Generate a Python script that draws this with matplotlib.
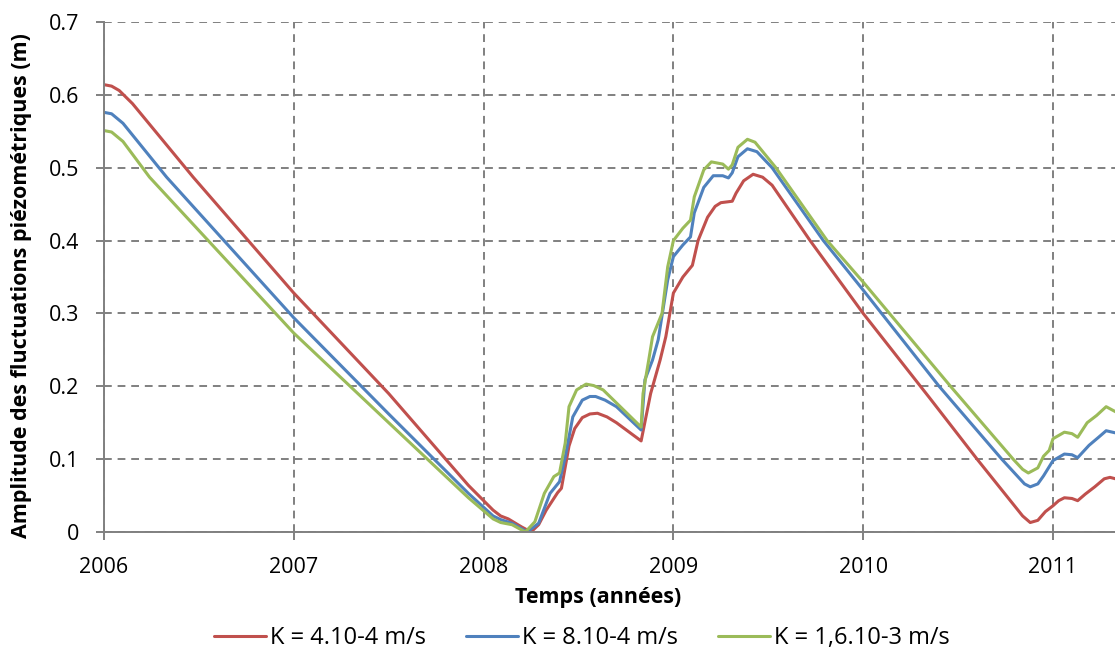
import numpy as np
import matplotlib
matplotlib.use('Agg')
import matplotlib.pyplot as plt
from matplotlib import rcParams

rcParams.update({'font.family': ['Open Sans', 'DejaVu Sans'], 'font.size': 15.5})

# time (years) and amplitude (m), one pair per curve
t_red = [2006.00, 2006.04, 2006.08, 2006.15, 2006.47, 2007.00, 2007.50, 2007.92, 2008.05, 2008.09,
         2008.13, 2008.20, 2008.25, 2008.29, 2008.33, 2008.39, 2008.41, 2008.45, 2008.48, 2008.52,
         2008.56, 2008.60, 2008.65, 2008.70, 2008.83, 2008.88, 2008.93, 2008.96, 2009.00, 2009.05,
         2009.10, 2009.13, 2009.18, 2009.22, 2009.25, 2009.31, 2009.33, 2009.37, 2009.42, 2009.47,
         2009.52, 2009.72, 2010.00, 2010.35, 2010.60, 2010.84, 2010.88, 2010.92, 2010.96, 2011.00,
         2011.03, 2011.06, 2011.10, 2011.13, 2011.17, 2011.22, 2011.27, 2011.30, 2011.33]
amp_red = [0.614, 0.612, 0.606, 0.588, 0.487, 0.328, 0.190, 0.064, 0.030, 0.022,
           0.018, 0.007, 0.000, 0.010, 0.030, 0.054, 0.060, 0.118, 0.142, 0.157,
           0.162, 0.163, 0.158, 0.150, 0.125, 0.190, 0.236, 0.268, 0.328, 0.350,
           0.366, 0.400, 0.432, 0.447, 0.452, 0.454, 0.465, 0.482, 0.491, 0.487,
           0.476, 0.400, 0.300, 0.184, 0.100, 0.022, 0.013, 0.016, 0.028, 0.036,
           0.043, 0.047, 0.046, 0.043, 0.052, 0.062, 0.073, 0.075, 0.073]

t_blue = [2006.00, 2006.04, 2006.10, 2006.33, 2007.00, 2007.50, 2007.92, 2008.05, 2008.09, 2008.15,
          2008.23, 2008.29, 2008.35, 2008.40, 2008.43, 2008.47, 2008.52, 2008.56, 2008.59, 2008.64,
          2008.70, 2008.83, 2008.85, 2008.89, 2008.92, 2008.97, 2009.00, 2009.05, 2009.09, 2009.11,
          2009.16, 2009.21, 2009.26, 2009.29, 2009.31, 2009.34, 2009.39, 2009.44, 2009.52, 2009.79,
          2010.00, 2010.40, 2010.73, 2010.85, 2010.88, 2010.92, 2010.95, 2011.00, 2011.06, 2011.10,
          2011.13, 2011.19, 2011.24, 2011.28, 2011.33]
amp_blue = [0.576, 0.574, 0.561, 0.487, 0.294, 0.162, 0.053, 0.022, 0.017, 0.012,
            0.000, 0.012, 0.053, 0.069, 0.103, 0.158, 0.181, 0.186, 0.186, 0.181,
            0.172, 0.140, 0.209, 0.236, 0.264, 0.346, 0.378, 0.394, 0.405, 0.438,
            0.473, 0.489, 0.489, 0.486, 0.493, 0.515, 0.526, 0.522, 0.500, 0.400,
            0.332, 0.200, 0.100, 0.066, 0.062, 0.066, 0.077, 0.098, 0.107, 0.106,
            0.102, 0.119, 0.130, 0.139, 0.136]

t_green = [2006.00, 2006.04, 2006.10, 2006.24, 2007.00, 2007.50, 2007.92, 2008.05, 2008.09, 2008.15,
           2008.22, 2008.27, 2008.32, 2008.37, 2008.40, 2008.43, 2008.45, 2008.49, 2008.54, 2008.58,
           2008.63, 2008.83, 2008.84, 2008.87, 2008.89, 2008.94, 2008.97, 2009.00, 2009.05, 2009.09,
           2009.11, 2009.16, 2009.20, 2009.26, 2009.29, 2009.31, 2009.34, 2009.39, 2009.43, 2009.54,
           2009.81, 2010.00, 2010.46, 2010.79, 2010.84, 2010.87, 2010.92, 2010.95, 2010.98, 2011.00,
           2011.06, 2011.10, 2011.13, 2011.18, 2011.23, 2011.28, 2011.33]
amp_green = [0.551, 0.549, 0.536, 0.487, 0.273, 0.150, 0.047, 0.018, 0.013, 0.010,
             0.000, 0.014, 0.053, 0.076, 0.081, 0.122, 0.172, 0.195, 0.203, 0.201,
             0.195, 0.144, 0.190, 0.236, 0.268, 0.300, 0.364, 0.400, 0.417, 0.428,
             0.460, 0.497, 0.508, 0.505, 0.498, 0.504, 0.528, 0.539, 0.535, 0.500,
             0.400, 0.343, 0.200, 0.100, 0.086, 0.081, 0.088, 0.104, 0.112, 0.128,
             0.137, 0.135, 0.130, 0.150, 0.160, 0.172, 0.165]

labels = ['K = 4.10-4 m/s', 'K = 8.10-4 m/s', 'K = 1,6.10-3 m/s']
colors = ['#C0504D', '#4F81BD', '#9BBB59']
year_ticks = [2006, 2007, 2008, 2009, 2010, 2011]

fig = plt.figure(figsize=(11.15, 6.55), dpi=100)
ax = fig.add_axes([104/1115, 123/655, 1 - 104/1115, 510/655])

series = [(t_red, amp_red), (t_blue, amp_blue), (t_green, amp_green)]
for (t, a), c, lab in zip(series, colors, labels):
    ax.plot(t, a, color=c, lw=2.2, label=lab, solid_joinstyle='round', solid_capstyle='round')

ax.set_xlim(2006, 2006 + (1115 - 104) / 189.8)
ax.set_ylim(0, 0.7)
ax.set_xticks(year_ticks)
ax.set_xticklabels([str(y) for y in year_ticks])
ax.set_yticks(np.arange(0, 0.71, 0.1))
ax.set_yticklabels(['0'] + ['%.1f' % v for v in np.arange(0.1, 0.71, 0.1)])

ax.grid(True, color='#808080', ls=(0, (4, 3)), lw=1.4)
ax.set_axisbelow(True)
for s in ['top', 'right']:
    ax.spines[s].set_visible(False)
for s in ['left', 'bottom']:
    ax.spines[s].set_color('#808080')
    ax.spines[s].set_linewidth(1.4)
ax.tick_params(axis='both', direction='out', length=6, width=1.4, color='#808080', labelsize=15.5)
ax.tick_params(axis='x', pad=12)
ax.tick_params(axis='y', pad=12)

ax.set_xlabel('Temps (années)', fontweight='bold', fontsize=15.5)
ax.set_ylabel('Amplitude des fluctuations piézométriques (m)', fontweight='bold', fontsize=15.5)
ax.xaxis.set_label_coords(0.489, -0.108)
ax.yaxis.set_label_coords(-0.071, 0.484)

fig.legend(loc='center', bbox_to_anchor=(0.522, 0.026), ncol=3, frameon=False, fontsize=17,
           handlelength=2.2, handletextpad=0.17, columnspacing=1.7)

fig.savefig('out.png', dpi=100)
